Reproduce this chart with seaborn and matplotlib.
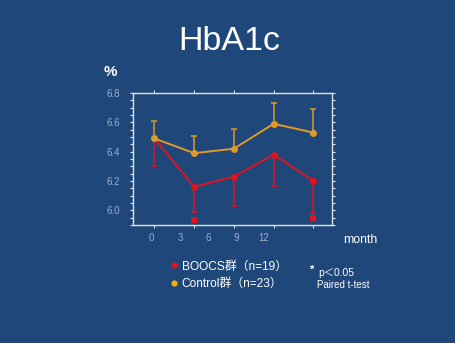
import matplotlib
matplotlib.use("Agg")
import matplotlib.pyplot as plt
import seaborn as sns
import pandas as pd
from matplotlib.lines import Line2D

# ---- data ----
visits = [0, 1, 2, 3, 4]
month_labels = ["0", "3", "6", "9", "12"]
boocs_mean = [6.49, 6.16, 6.23, 6.38, 6.20]
boocs_err_low = [0.185, 0.17, 0.20, 0.215, 0.22]
control_mean = [6.49, 6.39, 6.42, 6.59, 6.53]
control_err_up = [0.12, 0.12, 0.135, 0.14, 0.16]
sig_visits = [1, 4]
sig_values = [5.932, 5.948]
yticks = [6.0, 6.2, 6.4, 6.6, 6.8]

# ---- style ----
BG = "#1f477a"
RED = "#e0141e"
ORANGE = "#e09a28"
SPINE = "#dfe3ea"
TICKC = "#9fb0c8"
month_label_pos = [-0.07, 0.65, 1.36, 2.06, 2.76]

sns.set_theme(style="white")
plt.rcParams["font.family"] = ["Liberation Sans", "Noto Sans CJK JP", "DejaVu Sans"]

fig = plt.figure(figsize=(4.56, 3.43), dpi=100, facecolor=BG)
ax = fig.add_axes([133/456, 1-225/343, 199/456, 132/343])
ax.set_facecolor(BG)

df = pd.concat([
    pd.DataFrame({"visit": visits, "value": boocs_mean, "group": "BOOCS"}),
    pd.DataFrame({"visit": visits, "value": control_mean, "group": "Control"}),
])

ax.errorbar(visits, control_mean, yerr=[[0]*5, control_err_up], fmt="none",
            ecolor=ORANGE, elinewidth=1.1, capsize=2, capthick=1.1, zorder=2)
ax.errorbar(visits, boocs_mean, yerr=[boocs_err_low, [0]*5], fmt="none",
            ecolor=RED, elinewidth=1.1, capsize=2, capthick=1.1, zorder=2)
sns.lineplot(data=df, x="visit", y="value", hue="group",
             palette={"BOOCS": RED, "Control": ORANGE},
             marker="o", markersize=5, markeredgewidth=0, linewidth=1.4,
             legend=False, ax=ax, zorder=3)
sns.scatterplot(x=sig_visits, y=sig_values, color=RED, marker="s", s=14,
                linewidth=0, ax=ax, zorder=3)

ax.set_xlim(-0.54, 4.47)
ax.set_ylim(5.9, 6.8)
ax.set_xlabel("")
ax.set_ylabel("")

for s in ax.spines.values():
    s.set_color(SPINE)
    s.set_linewidth(1.0)

ax.set_xticks(visits)
ax.set_xticklabels([])
ax.set_xticks(month_label_pos, minor=True)
ax.set_xticklabels(month_labels, minor=True)
ax.tick_params(axis="x", which="major", direction="out", length=2.5, width=0.8,
               color=SPINE, top=True, bottom=True)
ax.tick_params(axis="x", which="minor", length=0, pad=6, labelsize=7, labelcolor=TICKC)

ax.set_yticks(yticks)
ax.set_yticklabels([f"{v:.1f}" for v in yticks])
ax.set_yticks([5.9 + 0.05*i for i in range(19)], minor=True)
ax.tick_params(axis="y", which="both", direction="out", length=2.5, width=0.8,
               color=SPINE, left=True, right=True, labelsize=7, labelcolor=TICKC, pad=7)
ax.tick_params(axis="y", which="minor", length=2)

# ---- texts ----
fig.text(229/456, 1-42/343, "HbA1c", color="white", fontsize=24.5, ha="center", va="center")
fig.text(110/456, 1-72.5/343, "%", color="white", fontsize=11, fontweight="bold",
         ha="center", va="center")
fig.text(343/456, 1-240/343, "month", color="white", fontsize=8.8, ha="left", va="center")

handles = [Line2D([], [], marker="o", linestyle="none", color=RED, markersize=4.5, markeredgewidth=0),
           Line2D([], [], marker="o", linestyle="none", color="#f0b000", markersize=4.5, markeredgewidth=0)]
leg = fig.legend(handles, ["BOOCS群（n=19）", "Control群（n=23）"],
                 loc="upper left", bbox_to_anchor=(168/456, 1-260.5/343), frameon=False,
                 fontsize=8.6, labelcolor="white", handletextpad=0.15, handlelength=1.0,
                 labelspacing=0.45, borderpad=0, borderaxespad=0)

fig.text(310/456, 1-270/343, "*", color="white", fontsize=8, fontweight="bold", ha="left", va="center")
fig.text(318/456, 1-272.7/343, "p＜0.05", color="white", fontsize=7.4, ha="left", va="center")
fig.text(317/456, 1-284.5/343, "Paired t-test", color="white", fontsize=7, ha="left", va="center")

fig.savefig("out.png", dpi=100, facecolor=BG)
